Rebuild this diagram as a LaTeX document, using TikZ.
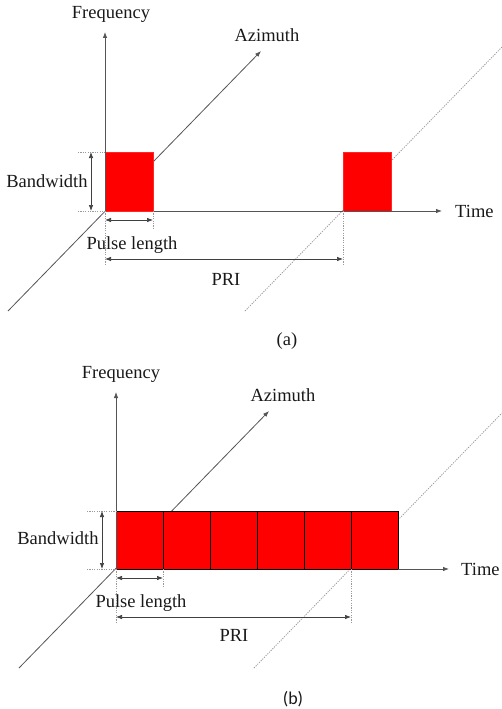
\documentclass[tikz,border=0pt]{standalone}
\usepackage{fontspec}
\setmainfont{Liberation Serif}
\newfontfamily\serifface{Liberation Serif}
\newfontfamily\capfont{Carlito}
\usetikzlibrary{arrows.meta}
\definecolor{axisgray}{HTML}{555555}
\definecolor{guidegray}{HTML}{9A9A9A}
\definecolor{pulsered}{HTML}{FF0000}
\tikzset{
  axisline/.style={draw=axisgray, line width=0.8pt, -{Latex[length=6pt,width=4.5pt]}},
  guide/.style={draw=guidegray, line width=0.8pt, dash pattern=on 1.2pt off 1.2pt},
  dimarrow/.style={draw=black!75, line width=0.7pt, {Latex[length=6pt,width=4.5pt]}-{Latex[length=6pt,width=4.5pt]}},
  pulse/.style={fill=pulsered, draw=pulsered!85!white, line width=0.4pt},
  cell/.style={fill=pulsered, draw=black, line width=0.8pt},
  lbl/.style={font=\serifface\fontsize{18.5}{22}\selectfont, inner sep=0pt, text=black!90},
}
\begin{document}
\begin{tikzpicture}[x=1pt, y=-1pt]
  \useasboundingbox (0,0) rectangle (502,709);

  % ---------------- (a): separate pulses ----------------
  \coordinate (Oa) at (105,211);
  \coordinate (Fa) at (105,32);
  \coordinate (Ta) at (442,211);
  \coordinate (Az0a) at (8,311);
  \coordinate (Az1a) at (261,51);
  \coordinate (P2a) at (343,211);
  \coordinate (D0a) at (245,311);
  \coordinate (D1a) at (502,47);

  % azimuth axis, dotted azimuth line through second pulse
  \draw[axisline] (Az0a) -- (Az1a);
  \draw[guide] (D0a) -- (D1a);
  % pulses
  \draw[pulse] (105,152) rectangle (153,211);
  \draw[pulse] (343,152) rectangle (391,211);
  % frequency and time axes
  \draw[axisline] (Oa) -- (Fa);
  \draw[axisline] (153,211) -- (Ta);

  \node[lbl] (freqa) at (111,14) {Frequency};
  \node[lbl] (aza) at (267,35) {Azimuth};
  \node[lbl, anchor=west] (timea) at (455,211) {Time};

  % bandwidth
  \coordinate (BWt0a) at (78,152);
  \coordinate (BWt1a) at (105,152);
  \coordinate (BWb0a) at (78,211);
  \draw[guide] (BWt0a) -- (BWt1a);
  \draw[guide] (BWb0a) -- (Oa);
  \coordinate (BWua) at (91,152);
  \coordinate (BWda) at (91,211);
  \draw[dimarrow] (BWua) -- (BWda);
  \node[lbl] (bwa) at (47,181) {Bandwidth};

  % pulse length
  \coordinate (PLra) at (153,230);
  \draw[guide] (153,211) -- (PLra);
  \coordinate (PL0a) at (105,220);
  \coordinate (PL1a) at (153,220);
  \draw[dimarrow] (PL0a) -- (PL1a);
  \node[lbl] (pla) at (132,245) {Pulse length};

  % PRI
  \coordinate (PRIla) at (105,265);
  \coordinate (PRIra) at (343,266);
  \draw[guide] (Oa) -- (PRIla);
  \draw[guide] (P2a) -- (PRIra);
  \coordinate (PRI0a) at (105,259);
  \coordinate (PRI1a) at (343,259);
  \draw[dimarrow] (PRI0a) -- (PRI1a);
  \node[lbl] (pria) at (226,279) {PRI};

  \node[lbl] (capa) at (287,341) {(a)};

  % ---------------- (b): contiguous pulses ----------------
  \coordinate (Ob) at (116,569);
  \coordinate (Fb) at (116,392);
  \coordinate (Tb) at (449,569);
  \coordinate (Az0b) at (19,668);
  \coordinate (Az1b) at (269,411);
  \coordinate (P6b) at (351,569);
  \coordinate (D0b) at (254,668);
  \coordinate (D1b) at (502,413);

  \draw[axisline] (Az0b) -- (Az1b);
  \draw[guide] (D0b) -- (D1b);
  \foreach \k in {0,...,5} {
    \draw[cell] ({116+47*\k},511) rectangle ({163+47*\k},569);
  }
  \draw[axisline] (Ob) -- (Fb);
  \draw[axisline] (398,569) -- (Tb);

  \node[lbl] (freqb) at (121,374) {Frequency};
  \node[lbl] (azb) at (283,395) {Azimuth};
  \node[lbl, anchor=west] (timeb) at (461,569) {Time};

  % bandwidth
  \coordinate (BWt0b) at (87,511);
  \coordinate (BWt1b) at (116,511);
  \coordinate (BWb0b) at (87,569);
  \draw[guide] (BWt0b) -- (BWt1b);
  \draw[guide] (BWb0b) -- (Ob);
  \coordinate (BWub) at (102,511);
  \coordinate (BWdb) at (102,569);
  \draw[dimarrow] (BWub) -- (BWdb);
  \node[lbl] (bwb) at (58,538) {Bandwidth};

  % pulse length
  \coordinate (PLtb) at (163,569);
  \coordinate (PLrb) at (163,588);
  \draw[guide] (PLtb) -- (PLrb);
  \coordinate (PL0b) at (116,578);
  \coordinate (PL1b) at (163,578);
  \draw[dimarrow] (PL0b) -- (PL1b);
  \node[lbl] (plb) at (141,603) {Pulse length};

  % PRI
  \coordinate (PRIlb) at (116,622);
  \coordinate (PRIrb) at (351,623);
  \draw[guide] (Ob) -- (PRIlb);
  \draw[guide] (P6b) -- (PRIrb);
  \coordinate (PRI0b) at (116,617);
  \coordinate (PRI1b) at (351,617);
  \draw[dimarrow] (PRI0b) -- (PRI1b);
  \node[lbl] (prib) at (234,635) {PRI};

  \node[lbl, font=\capfont\fontsize{18}{22}\selectfont] (capb) at (293,699) {(b)};
\end{tikzpicture}
\end{document}
